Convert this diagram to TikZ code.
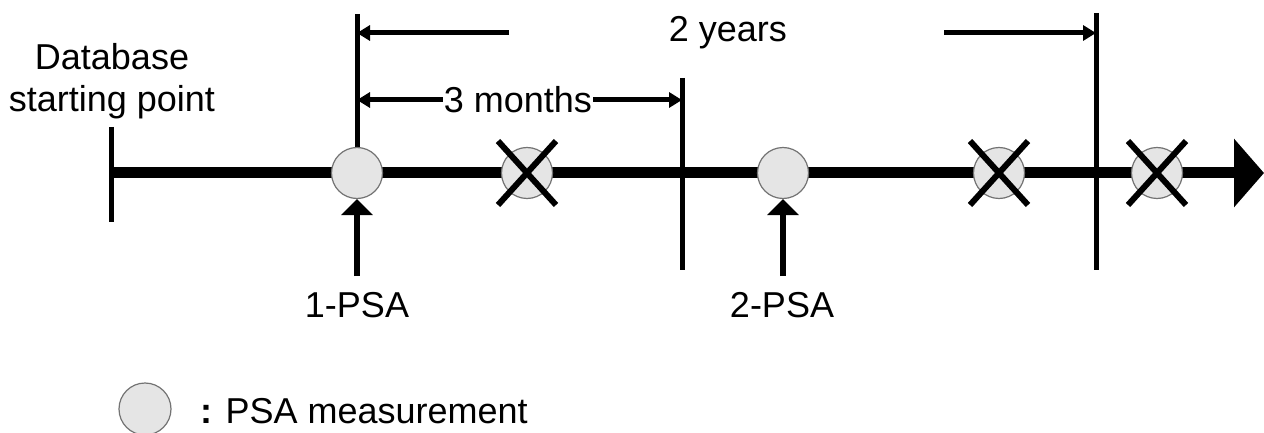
\documentclass[tikz,border=0pt]{standalone}
\usepackage{fontspec}
\setmainfont{Liberation Sans}
\usetikzlibrary{arrows.meta,calc}
\begin{document}
\begin{tikzpicture}[x=1pt,y=-1pt,
  txt/.style={font=\fontsize{36}{42}\selectfont, inner sep=0pt},
  meas/.style={circle, draw=black!55, line width=1.2pt, fill=black!10, minimum size=51pt, inner sep=0pt},
  vline/.style={line width=5pt},
  dimarrow/.style={line width=5pt, -{Triangle[length=13pt,width=15pt]}},
  uparrow/.style={line width=6pt, -{Triangle[length=16pt,width=31pt]}},
  crossline/.style={line width=6pt},
  axis/.style={line width=11pt, -{Triangle[length=30pt,width=67pt]}}
]
\useasboundingbox (0,0) rectangle (1264,433);
% coordinates
\coordinate (start) at (111,173);
\coordinate (end) at (1264,173);
\coordinate (t0top) at (111,127);
\coordinate (t0bot) at (111,222);
\coordinate (v1top) at (357,14);
\coordinate (v1bot) at (357,150);
\coordinate (v2top) at (682,78);
\coordinate (v2bot) at (682,270);
\coordinate (v3top) at (1096,13);
\coordinate (v3bot) at (1096,270);
\coordinate (yl) at (509,33);
\coordinate (ylend) at (357,33);
\coordinate (yr) at (944,33);
\coordinate (yrend) at (1096,33);
\coordinate (ms) at (357,100);
\coordinate (me) at (682,100);
\coordinate (a1) at (357,276);
\coordinate (a2) at (783,276);
% main axis
\draw[axis] (start) -- (end);
\draw[vline] (t0top) -- (t0bot);
% vertical markers
\draw[vline] (v1top) -- (v1bot);
\draw[vline] (v2top) -- (v2bot);
\draw[vline] (v3top) -- (v3bot);
% measurement circles
\node[meas] (c1) at (357,173) {};
\node[meas] (x1) at (527,173) {};
\node[meas] (c2) at (783,173) {};
\node[meas] (x2) at (999,173) {};
\node[meas] (x3) at (1157,173) {};
% crosses
\foreach \n in {x1,x2,x3}{
  \draw[crossline] ($(\n)+(-29,-32)$) -- ($(\n)+(29,32)$);
  \draw[crossline] ($(\n)+(-29,32)$) -- ($(\n)+(29,-32)$);
}
% 2 years
\node[txt] (years) at (728,33) {2 years};
\draw[dimarrow] (yl) -- (ylend);
\draw[dimarrow] (yr) -- (yrend);
% 3 months
\node[txt, fill=white, inner xsep=1pt] (months) at (518,100) {3 months};
\draw[dimarrow] (months.west) -- (ms);
\draw[dimarrow] (months.east) -- (me);
% Database starting point
\node[txt, align=center] (db) at (112,81) {Database\\starting point};
% PSA arrows
\draw[uparrow] (a1) -- (c1.south);
\draw[uparrow] (a2) -- (c2.south);
\node[txt] (p1) at (357,305) {1-PSA};
\node[txt] (p2) at (782,305) {2-PSA};
% legend
\node[meas, minimum size=52pt] (leg) at (145,409) {};
\node[txt, anchor=base west] (legt) at (200,423) {\textbf{:} PSA measurement};
\end{tikzpicture}
\end{document}
